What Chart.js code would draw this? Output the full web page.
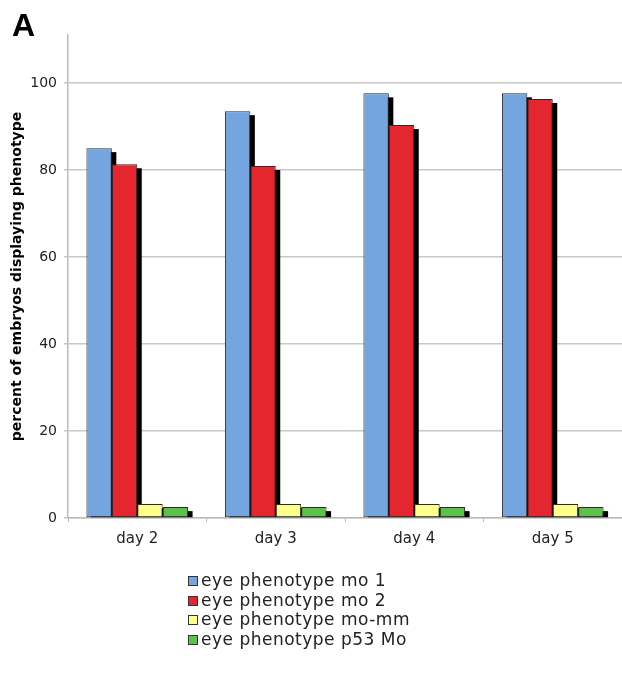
<!DOCTYPE html>
<html>
<head>
<meta charset="utf-8">
<script src="https://cdn.jsdelivr.net/npm/chart.js@4.4.1/dist/chart.umd.min.js"></script>
<style>
  body { margin: 0; background: #fff; }
  #wrap { position: relative; width: 622px; height: 675px; }
  #panel {
    position: absolute; left: 12px; top: 9px;
    font: bold 32px "Liberation Sans", Arial, sans-serif; line-height: 32px; color: #000;
  }
  #legend {
    position: absolute; left: 188px; top: 571px;
    font: 17px "DejaVu Sans", sans-serif; color: #222; letter-spacing: 0.5px;
  }
  #legend div { height: 19.5px; line-height: 19.5px; white-space: nowrap; }
  #legend span {
    display: inline-block; width: 8px; height: 8px; border: 1px solid #333;
    margin-right: 3px; vertical-align: 0px;
  }
</style>
</head>
<body>
<div id="wrap">
  <canvas id="chart" width="622" height="675"></canvas>
  <div id="panel">A</div>
  <div id="legend"></div>
</div>
<script>
// ---- data ----
const days = ["day 2", "day 3", "day 4", "day 5"];
const mo1 = [85, 93.5, 97.6, 97.6];
const mo2 = [81.3, 80.9, 90.3, 96.3];
const moMM = [3.2, 3.2, 3.2, 3.2];
const p53Mo = [2.5, 2.5, 2.5, 2.5];
const seriesNames = [
  "eye phenotype mo 1",
  "eye phenotype mo 2",
  "eye phenotype mo-mm",
  "eye phenotype p53 Mo",
];
const colors = ["#74a5df", "#e4262e", "#ffff8c", "#5cc24c"];
const yTicks = [0, 20, 40, 60, 80, 100];

// black drop shadow behind every bar (excel style)
const barShadow = {
  id: "barShadow",
  beforeDatasetsDraw(chart) {
    const ctx = chart.ctx;
    ctx.save();
    ctx.fillStyle = "#000";
    chart.data.datasets.forEach((ds, i) => {
      chart.getDatasetMeta(i).data.forEach((bar) => {
        const p = bar.getProps(["x", "y", "base", "width"], true);
        ctx.fillRect(p.x - p.width / 2 + 4.5, p.y + 4, p.width, p.base - p.y - 4);
      });
    });
    ctx.restore();
  },
};

const allValues = [mo1, mo2, moMM, p53Mo];

const chart = new Chart(document.getElementById("chart"), {
  type: "bar",
  data: {
    labels: days,
    datasets: allValues.map((vals, i) => ({
      label: seriesNames[i],
      data: vals,
      backgroundColor: colors[i],
      borderColor: "#2a2a2a",
      borderWidth: 1,
      borderSkipped: false,
      categoryPercentage: 0.734,
      barPercentage: 1,
    })),
  },
  options: {
    responsive: false,
    animation: false,
    layout: { padding: { top: 35, right: 0, bottom: 117, left: 0 } },
    plugins: { legend: { display: false }, tooltip: { enabled: false } },
    scales: {
      x: {
        afterFit: (s) => { s.height = 40; },
        grid: {
          drawOnChartArea: false,
          drawTicks: true,
          tickLength: 4,
          color: "#bbb",
          offset: true,
        },
        border: { color: "#bbb", width: 1.5 },
        ticks: {
          padding: 8,
          color: "#222",
          font: { family: "DejaVu Sans", size: 15 },
        },
      },
      y: {
        min: 0,
        max: 111,
        afterFit: (s) => { s.width = 68; },
        afterBuildTicks: (s) => {
          s.ticks = yTicks.map((v) => ({ value: v }));
        },
        grid: { color: "#c8c8c8", lineWidth: 1.5, tickLength: 4 },
        border: { color: "#bbb", width: 1.5 },
        ticks: {
          padding: 7,
          color: "#222",
          font: { family: "DejaVu Sans", size: 14 },
        },
        title: {
          display: true,
          text: "percent of embryos displaying phenotype",
          color: "#000",
          padding: { top: 9, bottom: 0 },
          font: { family: "DejaVu Sans", size: 14, weight: "bold" },
        },
      },
    },
  },
  plugins: [barShadow],
});

// legend as a vertical list under the plot
const legend = document.getElementById("legend");
chart.data.datasets.forEach((ds) => {
  const row = document.createElement("div");
  const box = document.createElement("span");
  box.style.background = ds.backgroundColor;
  row.appendChild(box);
  row.appendChild(document.createTextNode(ds.label));
  legend.appendChild(row);
});
</script>
</body>
</html>
